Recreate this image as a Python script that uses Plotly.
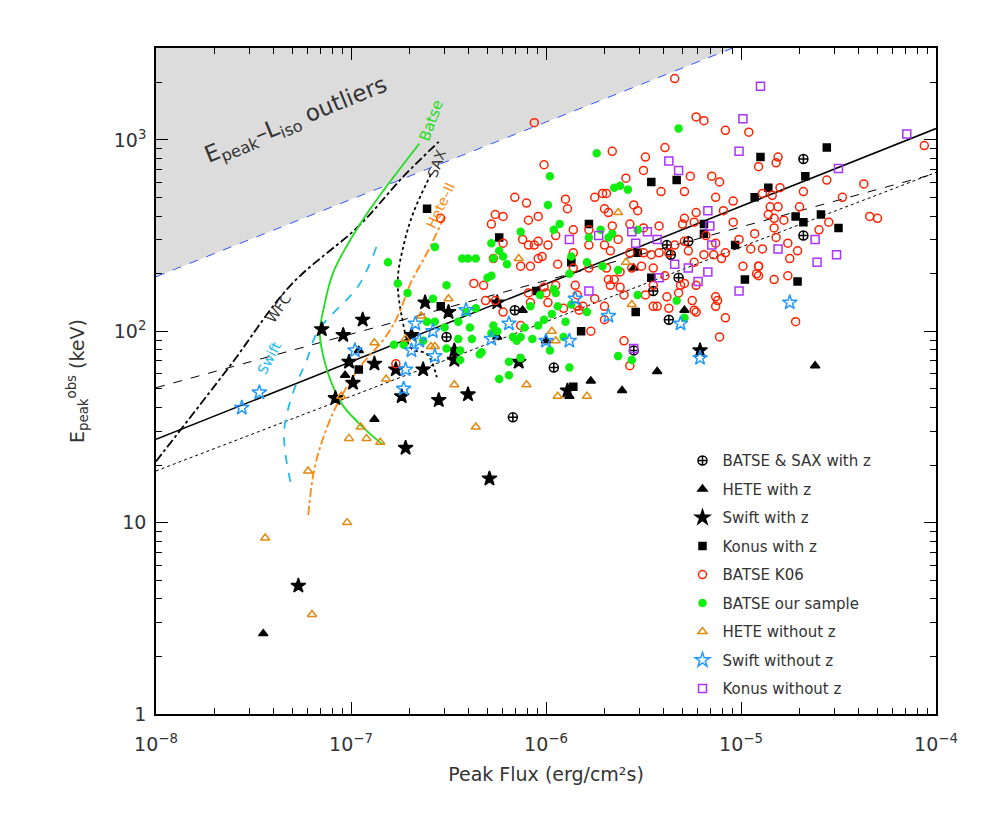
import numpy as np
import plotly.graph_objects as go

# all values as log10(peak flux [erg/cm2/s]) and log10(Epeak [keV])
sax_lf = [-6.51, -6.17, -6.16, -5.96, -5.55, -5.45, -5.38, -5.36, -5.32, -5.27, -5.37, -4.68, -4.68]
sax_le = [1.97, 1.55, 2.11, 1.81, 1.90, 2.21, 2.45, 2.40, 2.28, 2.47, 2.06, 2.50, 2.90]

hete_lf = [-6.96, -7.03, -6.88, -7.45, -6.25, -6.12, -6.0, -5.88, -5.77, -5.61, -5.43, -5.29, -4.62, -5.55]
hete_le = [1.90, 1.77, 1.54, 0.42, 1.97, 2.11, 1.95, 1.66, 1.74, 1.69, 1.79, 2.11, 1.82, 2.33]

swift_lf = [-7.15, -7.04, -6.94, -7.01, -6.99, -7.08, -6.88, -6.77, -6.74, -6.69, -6.63, -6.62,
            -6.55, -6.47, -6.47, -6.40, -6.72, -6.29, -7.27, -6.25, -6.14, -6.50, -5.21, -5.89]
swift_le = [2.01, 1.98, 2.06, 1.84, 1.73, 1.65, 1.83, 1.80, 1.66, 1.98, 1.80, 2.15,
            1.64, 1.90, 1.85, 1.67, 1.39, 1.23, 0.67, 2.15, 1.84, 2.10, 1.90, 1.69]

konus_lf = [-6.61, -6.24, -6.54, -6.05, -6.96, -5.78, -5.87, -5.46, -5.33, -5.53, -5.46, -5.82, -5.54, -5.19,
            -5.19, -5.03, -4.98, -4.93, -4.90, -4.86, -4.72, -4.68, -4.67, -4.59, -4.56, -4.50, -4.71, -5.86]
konus_le = [2.64, 2.49, 2.13, 2.21, 1.80, 2.56, 2.36, 2.78, 2.79, 2.41, 2.28, 2.00, 2.10, 2.56,
            2.51, 2.45, 2.27, 2.70, 2.91, 2.75, 2.60, 2.57, 2.81, 2.61, 2.96, 2.54, 2.26, 1.71]

k06_lf = [-6.06, -6.01, -6.16, -6.10, -6.04, -6.28, -6.26, -6.22, -6.09, -6.22, -6.12, -6.09, -6.06, -6.04,
          -6.27, -6.04, -6.13, -6.08, -6.54, -6.37, -6.32, -6.26, -6.22, -6.13, -6.08, -6.09, -6.0, -5.99,
          -6.77, -6.31, -5.34, -5.23, -5.19, -5.08, -4.96, -5.66, -5.49, -5.39, -5.50, -5.75, -5.71, -5.69,
          -5.90, -5.89, -5.70, -5.68, -5.55, -5.53, -5.59, -5.41, -5.29, -5.26, -5.15, -5.11, -5.13, -5.23,
          -5.29, -5.09, -5.04, -4.91, -4.81, -4.82, -4.89, -4.84, -4.80, -4.68, -4.56, -4.37, -4.48, -4.85,
          -4.81, -4.86, -4.70, -4.78, -4.83, -4.82, -4.76, -4.71, -4.75, -4.60, -4.55, -4.34, -4.30, -4.06,
          -5.04, -5.01, -4.95, -4.89, -4.83, -4.76, -4.91, -4.92, -4.99, -4.72, -5.08, -5.11, -5.12, -5.13,
          -5.25, -5.23, -5.27, -5.24, -5.19, -5.14, -5.10, -5.13, -5.08, -5.18, -5.29, -5.34, -5.37, -5.42,
          -5.46, -5.50, -5.57, -5.67, -5.70, -5.78, -5.86, -5.94, -5.86, -5.78, -5.69, -5.62, -5.56, -5.51,
          -5.45, -5.39, -5.45, -5.49, -5.38, -5.29, -5.32, -5.67, -5.62, -5.65, -5.68, -5.60, -5.75, -5.84,
          -5.81, -5.91, -5.84, -5.83, -6.01, -5.95, -5.85, -5.70, -5.70, -5.77, -5.60, -5.57, -5.45, -5.43,
          -5.37, -5.24, -5.13, -5.31, -5.24, -5.30, -5.42, -5.50, -5.57, -5.63, -5.66, -5.78, -5.86, -5.95,
          -5.99, -6.02, -4.93, -4.91, -4.91, -4.83, -5.23]
k06_le = [3.09, 2.87, 2.70, 2.67, 2.60, 2.56, 2.61, 2.60, 2.58, 2.46, 2.48, 2.45, 2.45, 2.47,
          2.38, 2.38, 2.34, 2.34, 2.59, 2.25, 2.24, 2.16, 2.10, 2.03, 2.15, 2.20, 2.20, 2.15,
          1.83, 2.16, 3.32, 3.12, 3.10, 3.05, 3.04, 2.94, 2.91, 2.96, 2.84, 2.70, 2.72, 2.72,
          2.69, 2.64, 2.64, 2.62, 2.66, 2.63, 2.80, 2.73, 2.73, 2.81, 2.81, 2.78, 2.70, 2.62,
          2.59, 2.63, 2.68, 2.86, 2.91, 2.88, 2.72, 2.71, 2.75, 2.73, 2.79, 2.77, 2.70, 2.65,
          2.65, 2.61, 2.65, 2.58, 2.54, 2.49, 2.46, 2.42, 2.38, 2.53, 2.57, 2.60, 2.59, 2.97,
          2.57, 2.48, 2.43, 2.43, 2.27, 2.29, 2.34, 2.30, 2.34, 2.05, 2.07, 1.97, 2.16, 2.18,
          2.16, 2.24, 2.42, 2.36, 2.40, 2.40, 2.38, 2.46, 2.41, 2.50, 2.47, 2.45, 2.41, 2.41,
          2.40, 2.41, 2.41, 2.42, 2.45, 2.45, 2.41, 2.35, 2.33, 2.33, 2.33, 2.31, 2.33, 2.34,
          2.33, 2.29, 2.24, 2.19, 2.18, 2.25, 2.20, 2.24, 2.23, 2.27, 2.27, 2.19, 2.17, 2.19,
          2.13, 2.12, 2.13, 2.11, 2.23, 2.24, 2.24, 2.06, 2.13, 2.00, 1.95, 1.82, 2.13, 2.13,
          2.12, 2.11, 2.13, 2.24, 2.57, 2.56, 2.55, 2.54, 2.56, 2.48, 2.55, 2.53, 2.53, 2.50,
          2.45, 2.39, 2.51, 2.34, 2.29, 2.59, 2.10]

our_lf = [-5.98, -5.99, -6.13, -6.28, -6.24, -6.22, -6.20, -6.27, -6.43, -6.40, -6.36, -6.57, -6.28, -6.30,
          -6.81, -6.76, -6.71, -6.51, -6.58, -6.61, -6.63, -6.78, -6.57, -6.52, -6.45, -6.39, -6.38, -6.28,
          -6.27, -6.08, -6.03, -6.01, -6.04, -6.11, -6.15, -6.33, -6.44, -6.19, -6.45, -6.73, -6.51, -6.44,
          -6.34, -6.25, -6.17, -6.13, -6.07, -6.13, -6.24, -6.19, -6.36, -6.41, -5.32, -5.74, -5.65, -5.62,
          -5.58, -5.93, -5.96, -5.72, -5.66, -5.68, -5.78, -5.53, -5.87, -5.79, -5.71, -5.63, -5.88, -5.96,
          -5.95, -5.94, -5.87, -5.79, -5.97, -5.53, -5.33, -5.29, -5.90, -5.91, -5.98, -5.63, -5.56, -5.88]
our_le = [2.81, 2.66, 2.52, 2.46, 2.42, 2.39, 2.35, 2.38, 2.38, 2.38, 2.38, 2.44, 2.29, 2.28,
          2.36, 2.25, 2.20, 2.24, 2.17, 2.05, 1.95, 1.93, 2.05, 2.02, 2.05, 2.02, 1.96, 1.99,
          2.03, 2.13, 2.19, 2.06, 2.03, 2.02, 1.95, 1.89, 1.85, 1.84, 1.96, 1.93, 1.91, 1.90,
          1.88, 2.00, 1.97, 1.97, 1.96, 1.86, 1.75, 1.77, 2.12, 2.10, 3.06, 2.93, 2.75, 2.76,
          2.74, 2.56, 2.53, 2.53, 2.51, 2.49, 2.49, 2.53, 2.39, 2.36, 2.34, 2.32, 2.30, 2.22,
          2.20, 2.13, 2.14, 2.10, 2.09, 2.19, 2.16, 2.07, 2.05, 1.97, 1.90, 1.87, 1.85, 1.81]

hetenz_lf = [-6.50, -6.64, -6.88, -6.72, -6.59, -6.57, -6.82, -6.47, -6.10, -7.05, -6.95, -7.01, -6.92, -6.85,
             -6.36, -7.22, -7.02, -7.44, -7.20, -6.14, -5.63, -5.59, -5.56, -5.97, -5.95, -5.94, -5.79]
hetenz_le = [2.17, 2.08, 1.94, 1.96, 1.92, 1.92, 1.75, 1.72, 1.72, 1.66, 1.50, 1.44, 1.44, 1.42,
             1.50, 1.27, 1.00, 0.92, 0.52, 2.38, 2.62, 2.36, 2.14, 2.00, 1.95, 1.66, 1.66]

swiftnz_lf = [-7.56, -7.47, -6.98, -6.72, -6.73, -6.69, -6.65, -6.58, -6.67, -6.57, -6.41, -6.28, -6.19, -6.0,
              -5.85, -5.68, -5.88, -5.31, -5.21, -4.75]
swiftnz_le = [1.60, 1.68, 1.90, 1.80, 1.70, 1.90, 1.95, 2.00, 2.04, 1.87, 2.11, 1.96, 2.04, 1.95,
              2.17, 2.08, 1.95, 2.04, 1.86, 2.15]

konusnz_lf = [-4.90, -4.99, -5.01, -5.37, -5.32, -4.15, -4.50, -5.17, -5.16, -5.56, -5.48, -5.73, -5.88, -5.54,
              -5.43, -5.15, -4.81, -4.62, -4.51, -4.61, -5.34, -5.27, -5.17, -5.22, -5.42, -5.78, -5.01, -5.55]
konusnz_le = [3.28, 3.11, 2.94, 2.89, 2.84, 3.03, 2.85, 2.63, 2.55, 2.52, 2.52, 2.50, 2.48, 2.46,
              2.48, 2.45, 2.43, 2.48, 2.40, 2.36, 2.35, 2.33, 2.31, 2.26, 2.28, 2.21, 2.21, 1.91]

# instrument thresholds
wfc_lf = [-8.0, -7.62, -7.31, -6.96, -6.73, -6.55]
wfc_le = [1.32, 1.82, 2.24, 2.55, 2.81, 2.99]
batse_lf = [-6.65, -6.83, -6.96, -7.09, -7.14, -7.16, -7.14, -7.10, -7.04, -6.93, -6.84]
batse_le = [2.98, 2.74, 2.55, 2.31, 2.12, 1.99, 1.86, 1.73, 1.61, 1.49, 1.41]
swiftth_lf = [-6.87, -6.96, -7.17, -7.23, -7.29, -7.34, -7.34, -7.31]
swiftth_le = [2.44, 2.24, 2.00, 1.84, 1.70, 1.51, 1.39, 1.21]
sax_th_lf = [-6.59, -6.68, -6.73, -6.76, -6.74, -6.69, -6.61, -6.56]
sax_th_le = [2.82, 2.62, 2.45, 2.27, 2.08, 1.91, 1.88, 1.76]
hete_th_lf = [-6.52, -6.61, -6.69, -6.76, -6.83, -6.95, -7.07, -7.14, -7.19, -7.22]
hete_th_le = [2.60, 2.41, 2.26, 2.08, 1.96, 1.82, 1.62, 1.45, 1.27, 1.03]

# straight lines in log-log: (log10 E at F=1e-8, slope)
fit_solid = (1.435, 0.406)
fit_dashed = (1.705, 0.28)
fit_dotted = (1.27, 0.39)
outlier_edge = (2.285, 0.404)

p = lambda a: 10.0 ** np.array(a, dtype=float)
fig = go.Figure()

lx = np.array([-8.0, -4.0])
ex = lx + 8
edge = outlier_edge[0] + outlier_edge[1] * ex
fig.add_trace(go.Scatter(x=p([-8, -4, -4, -8]), y=p([edge[0], edge[1], 5, 5]), fill="toself",
                         fillcolor="#dcdcdc", line=dict(width=0), mode="lines", showlegend=False, hoverinfo="skip"))
fig.add_trace(go.Scatter(x=p(lx), y=p(edge), mode="lines", line=dict(color="#3355ff", width=1, dash="dash"),
                         showlegend=False))
for (a, b), dash in [(fit_solid, "solid"), (fit_dashed, "dash"), (fit_dotted, "dot")]:
    fig.add_trace(go.Scatter(x=p(lx), y=p(a + b * ex), mode="lines",
                             line=dict(color="black", width=1.5 if dash == "solid" else 1, dash=dash),
                             showlegend=False))

for xs, ys, col, dash in [(wfc_lf, wfc_le, "black", "dashdot"), (batse_lf, batse_le, "#22dd22", "solid"),
                          (swiftth_lf, swiftth_le, "#22bbee", "dash"), (sax_th_lf, sax_th_le, "black", "dot"),
                          (hete_th_lf, hete_th_le, "#ff8811", "dashdot")]:
    fig.add_trace(go.Scatter(x=p(xs), y=p(ys), mode="lines", line=dict(color=col, width=1.8, dash=dash),
                             line_shape="spline", showlegend=False))

series = [
    ("BATSE & SAX with z", sax_lf, sax_le, "circle-cross-open", "black", 9),
    ("HETE with z", hete_lf, hete_le, "triangle-up", "black", 8),
    ("Swift with z", swift_lf, swift_le, "star", "black", 11),
    ("Konus with z", konus_lf, konus_le, "square", "black", 7),
    ("BATSE K06", k06_lf, k06_le, "circle-open", "#ff2200", 8),
    ("BATSE our sample", our_lf, our_le, "circle", "#11ee11", 7),
    ("HETE without z", hetenz_lf, hetenz_le, "triangle-up-open", "#e08a10", 8),
    ("Swift without z", swiftnz_lf, swiftnz_le, "star-open", "#2299ff", 11),
    ("Konus without z", konusnz_lf, konusnz_le, "square-open", "#aa33ff", 8),
]
for name, xs, ys, sym, col, sz in series:
    fig.add_trace(go.Scatter(x=p(xs), y=p(ys), mode="markers", name=name, legendgroup=name,
                             marker=dict(symbol=sym, color=col, size=sz, line=dict(color=col, width=1.5))))

font = dict(family="DejaVu Sans", color="#333333")
labels = [
    ("E<sub>peak</sub>–L<sub>iso</sub> outliers", -7.28, 3.1, -22, "#333333", 23),
    ("WFC", -7.37, 2.12, -55, "#333333", 14),
    ("Swift", -7.42, 1.86, -62, "#22bbee", 14),
    ("Batse", -6.59, 3.1, -70, "#22dd22", 15),
    ("SAX", -6.56, 2.88, -70, "#333333", 14),
    ("Hete–II", -6.54, 2.66, -65, "#ff8811", 14),
]
for txt, x, y, ang, col, sz in labels:
    fig.add_annotation(x=x, y=y, text=txt, showarrow=False, textangle=ang,
                       font=dict(family="DejaVu Sans", color=col, size=sz))

ax = dict(type="log", showgrid=False, zeroline=False, showline=True, linecolor="black", linewidth=1.5,
          mirror="allticks", ticks="inside", ticklen=12, tickcolor="black", automargin=False,
          minor=dict(ticks="inside", ticklen=6, tickcolor="black", dtick="D1", showgrid=False),
          tickfont=dict(family="DejaVu Sans", size=19, color="#333333"))
fig.update_xaxes(**ax, range=[-8, -4], tickvals=[1e-8, 1e-7, 1e-6, 1e-5, 1e-4], ticklabelstandoff=12,
                 ticktext=["10<sup>−8</sup>", "10<sup>−7</sup>", "10<sup>−6</sup>", "10<sup>−5</sup>", "10<sup>−4</sup>"],
                 title=dict(text="Peak Flux (erg/cm²s)", standoff=14,
                            font=dict(family="DejaVu Sans", size=19, color="#333333")))
fig.update_yaxes(**ax, range=[0, 3.48], tickvals=[1, 10, 100, 1000], ticklabelstandoff=4,
                 ticktext=["1", "10", "10<sup>2</sup>", "10<sup>3</sup>"],
                 title=dict(text="E<sub>peak</sub><sup>obs</sup> (keV)", standoff=24,
                            font=dict(family="DejaVu Sans", size=19, color="#333333")))
fig.update_layout(width=981, height=817, plot_bgcolor="white", paper_bgcolor="white",
                  margin=dict(l=148, r=53, t=40, b=111), font=font,
                  legend=dict(x=0.675, y=0.405, xanchor="left", yanchor="top", bgcolor="rgba(0,0,0,0)",
                              font=dict(family="DejaVu Sans", size=15, color="#333333"), tracegroupgap=6))
fig.write_html("out.html")
